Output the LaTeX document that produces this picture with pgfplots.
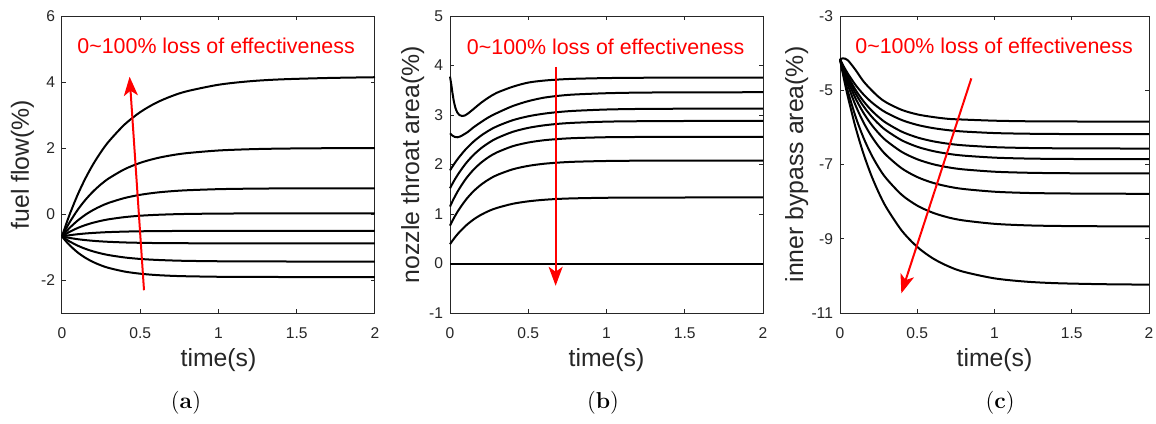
\documentclass[border=0pt]{standalone}
\usepackage{fontspec}
\setsansfont{Liberation Sans}
\usepackage{pgfplots}
\usepackage{pgfplotstable}
\pgfplotsset{compat=1.18}
\usetikzlibrary{arrows.meta}
\definecolor{axgray}{RGB}{38,38,38}

\pgfplotsset{
  panel/.style={
    scale only axis, height=148.5pt,
    xmin=0, xmax=2, xtick={0,0.5,1,1.5,2},
    tick align=inside, tick pos=both, major tick length=1.8pt,
    axis line style={axgray, line width=0.5pt},
    every tick/.style={axgray, line width=0.5pt},
    tick label style={font=\sffamily\fontsize{7.8}{9}\selectfont, text=axgray},
    /pgf/number format/assume math mode=true,
    xticklabel style={yshift=-3.9pt},
    label style={font=\sffamily\fontsize{12.4}{14}\selectfont, text=axgray},
    xlabel={time(s)},
    xlabel style={at={(axis description cs:0.5,-0.16)}, anchor=center},
    clip=false,
  },
  curve/.style={black, line width=1pt, smooth},
}
\tikzset{
  redarrow/.style={red, line width=1pt, -{Stealth[length=9.5pt,width=7pt,inset=2.5pt]}},
  redtext/.style={anchor=west, text=red, inner sep=0pt, font=\sffamily\fontsize{10.7}{12}\selectfont},
}

% panel (a): fuel flow
\pgfplotstableread{
t    a1     a2     a3     a4     a5     a6     a7     a8
0    -0.680 -0.680 -0.680 -0.680 -0.680 -0.680 -0.680 -0.680
0.02 -0.396 -0.495 -0.568 -0.619 -0.664 -0.700 -0.746 -0.797
0.05  0.000 -0.242 -0.415 -0.538 -0.642 -0.726 -0.835 -0.952
0.1   0.583  0.125 -0.199 -0.424 -0.613 -0.763 -0.958 -1.164
0.15  1.084  0.431 -0.021 -0.334 -0.590 -0.791 -1.056 -1.329
0.2   1.515  0.688  0.124 -0.262 -0.573 -0.813 -1.134 -1.457
0.25  1.886  0.903  0.243 -0.205 -0.559 -0.830 -1.196 -1.558
0.3   2.204  1.082  0.340 -0.159 -0.548 -0.843 -1.246 -1.636
0.4   2.713  1.358  0.485 -0.094 -0.533 -0.862 -1.317 -1.744
0.5   3.088  1.551  0.582 -0.052 -0.524 -0.873 -1.362 -1.809
0.6   3.366  1.686  0.648 -0.026 -0.518 -0.880 -1.390 -1.849
0.7   3.571  1.780  0.691 -0.009 -0.515 -0.884 -1.408 -1.873
0.8   3.722  1.846  0.720  0.002 -0.513 -0.886 -1.420 -1.887
1.0   3.917  1.925  0.753  0.013 -0.511 -0.889 -1.432 -1.902
1.2   4.023  1.963  0.768  0.017 -0.510 -0.890 -1.437 -1.907
1.4   4.080  1.982  0.775  0.019 -0.510 -0.890 -1.439 -1.909
1.7   4.122  1.994  0.778  0.020 -0.510 -0.890 -1.440 -1.910
2.0   4.145  1.998  0.780  0.020 -0.510 -0.890 -1.440 -1.910
}\tabA

% panel (b): nozzle throat area
\pgfplotstableread{
t    b3    b4    b5    b6    b7    b8
0    1.880 1.520 1.150 0.765 0.390 0
0.02 1.980 1.638 1.284 0.890 0.480 0
0.05 2.115 1.796 1.462 1.056 0.599 0
0.1  2.306 2.017 1.705 1.282 0.761 0
0.15 2.461 2.192 1.894 1.459 0.888 0
0.2  2.587 2.332 2.041 1.596 0.987 0
0.25 2.689 2.443 2.156 1.703 1.064 0
0.3  2.772 2.532 2.245 1.787 1.123 0
0.4  2.894 2.659 2.369 1.902 1.206 0
0.5  2.974 2.740 2.444 1.972 1.256 0
0.6  3.027 2.791 2.490 2.015 1.287 0
0.7  3.062 2.824 2.517 2.040 1.306 0
0.8  3.085 2.844 2.534 2.056 1.317 0
1.0  3.111 2.866 2.551 2.071 1.328 0
1.2  3.122 2.874 2.556 2.077 1.332 0
1.4  3.126 2.878 2.559 2.079 1.333 0
1.7  3.129 2.880 2.560 2.080 1.334 0
2.0  3.130 2.880 2.560 2.080 1.334 0
}\tabB

% panel (c): inner bypass area
\pgfplotstableread{
t    c1     c2     c3     c4     c5     c6     c7     c8
0    -4.167 -4.167 -4.167 -4.167 -4.167 -4.167 -4.167 -4.167
0.02 -4.140 -4.328 -4.359 -4.382 -4.413 -4.457 -4.527 -4.585
0.05 -4.190 -4.546 -4.619 -4.673 -4.745 -4.848 -5.014 -5.160
0.1  -4.450 -4.854 -4.986 -5.084 -5.215 -5.401 -5.701 -5.990
0.15 -4.750 -5.104 -5.284 -5.417 -5.596 -5.850 -6.259 -6.685
0.2  -4.980 -5.307 -5.526 -5.688 -5.906 -6.215 -6.712 -7.266
0.25 -5.180 -5.472 -5.722 -5.908 -6.157 -6.511 -7.080 -7.752
0.3  -5.330 -5.606 -5.882 -6.086 -6.361 -6.751 -7.378 -8.159
0.4  -5.530 -5.803 -6.116 -6.349 -6.661 -7.105 -7.818 -8.783
0.5  -5.650 -5.933 -6.271 -6.522 -6.859 -7.338 -8.108 -9.220
0.6  -5.720 -6.018 -6.373 -6.636 -6.990 -7.492 -8.298 -9.526
0.7  -5.770 -6.075 -6.440 -6.711 -7.076 -7.593 -8.425 -9.740
0.8  -5.790 -6.112 -6.484 -6.761 -7.132 -7.660 -8.507 -9.890
1.0  -5.820 -6.153 -6.533 -6.815 -7.194 -7.733 -8.598 -10.067
1.2  -5.835 -6.170 -6.554 -6.839 -7.221 -7.765 -8.638 -10.154
1.4  -5.840 -6.178 -6.563 -6.849 -7.233 -7.778 -8.655 -10.197
1.7  -5.843 -6.182 -6.568 -6.855 -7.240 -7.786 -8.664 -10.224
2.0  -5.843 -6.184 -6.570 -6.857 -7.242 -7.789 -8.668 -10.236
}\tabC

\begin{document}
\begin{tikzpicture}
\path[use as bounding box] (0,0) rectangle (578pt,-211.5pt);

\begin{axis}[panel, at={(31pt,-156.5pt)}, anchor=south west, width=156.5pt,
  ymin=-3, ymax=6, ytick={-2,0,2,4,6},
  ylabel={fuel flow(\%)},
  ylabel style={at={(axis description cs:-0.126,0.5)}, anchor=center}]
\foreach \c in {a1,a2,a3,a4,a5,a6,a7,a8}{
  \addplot[curve] table[x=t, y=\c] {\tabA};
}
\draw[redarrow] (axis cs:0.524,-2.31) -- (axis cs:0.432,4.16);
\node[redtext] at (rel axis cs:0.048,0.90) {0\textasciitilde100\% loss of effectiveness};
\end{axis}

\begin{axis}[panel, at={(225pt,-156.5pt)}, anchor=south west, width=156.5pt,
  ymin=-1, ymax=5, ytick={-1,0,1,2,3,4,5},
  ylabel={nozzle throat area(\%)},
  ylabel style={at={(axis description cs:-0.119,0.5)}, anchor=center}]
\addplot[curve] coordinates {(0,3.775) (0.008,3.62) (0.016,3.44) (0.025,3.27)
  (0.035,3.14) (0.047,3.05) (0.06,3.0) (0.077,2.98) (0.095,2.99) (0.115,3.03)
  (0.15,3.12) (0.2,3.25) (0.25,3.36) (0.3,3.45) (0.4,3.57) (0.5,3.655)
  (0.6,3.695) (0.7,3.718) (0.8,3.732) (1.0,3.746) (1.2,3.752) (1.5,3.755) (2,3.756)};
\addplot[curve] coordinates {(0,2.63) (0.015,2.585) (0.03,2.558) (0.047,2.55)
  (0.065,2.565) (0.09,2.61) (0.115,2.66) (0.15,2.75) (0.2,2.86) (0.25,2.96)
  (0.3,3.04) (0.4,3.18) (0.5,3.28) (0.6,3.35) (0.7,3.39) (0.8,3.415) (1.0,3.44)
  (1.2,3.452) (1.5,3.458) (2,3.46)};
\foreach \c in {b3,b4,b5,b6,b7,b8}{
  \addplot[curve] table[x=t, y=\c] {\tabB};
}
\draw[redarrow] (axis cs:0.675,3.97) -- (axis cs:0.675,-0.45);
\node[redtext] at (rel axis cs:0.053,0.897) {0\textasciitilde100\% loss of effectiveness};
\end{axis}

\begin{axis}[panel, at={(420pt,-156.5pt)}, anchor=south west, width=154.5pt,
  ymin=-11, ymax=-3, ytick={-11,-9,-7,-5,-3},
  ylabel={inner bypass area(\%)},
  ylabel style={at={(axis description cs:-0.140,0.5)}, anchor=center}]
\foreach \c in {c1,c2,c3,c4,c5,c6,c7,c8}{
  \addplot[curve] table[x=t, y=\c] {\tabC};
}
\draw[redarrow] (axis cs:0.85,-4.68) -- (axis cs:0.397,-10.47);
\node[redtext] at (rel axis cs:0.0485,0.899) {0\textasciitilde100\% loss of effectiveness};
\end{axis}

\node[font=\rmfamily\fontsize{11.5}{13}\selectfont] at (93pt,-201.5pt) {(\textbf{a})};
\node[font=\rmfamily\fontsize{11.5}{13}\selectfont] at (301.5pt,-201.5pt) {(\textbf{b})};
\node[font=\rmfamily\fontsize{11.5}{13}\selectfont] at (500pt,-201.5pt) {(\textbf{c})};
\end{tikzpicture}
\end{document}
